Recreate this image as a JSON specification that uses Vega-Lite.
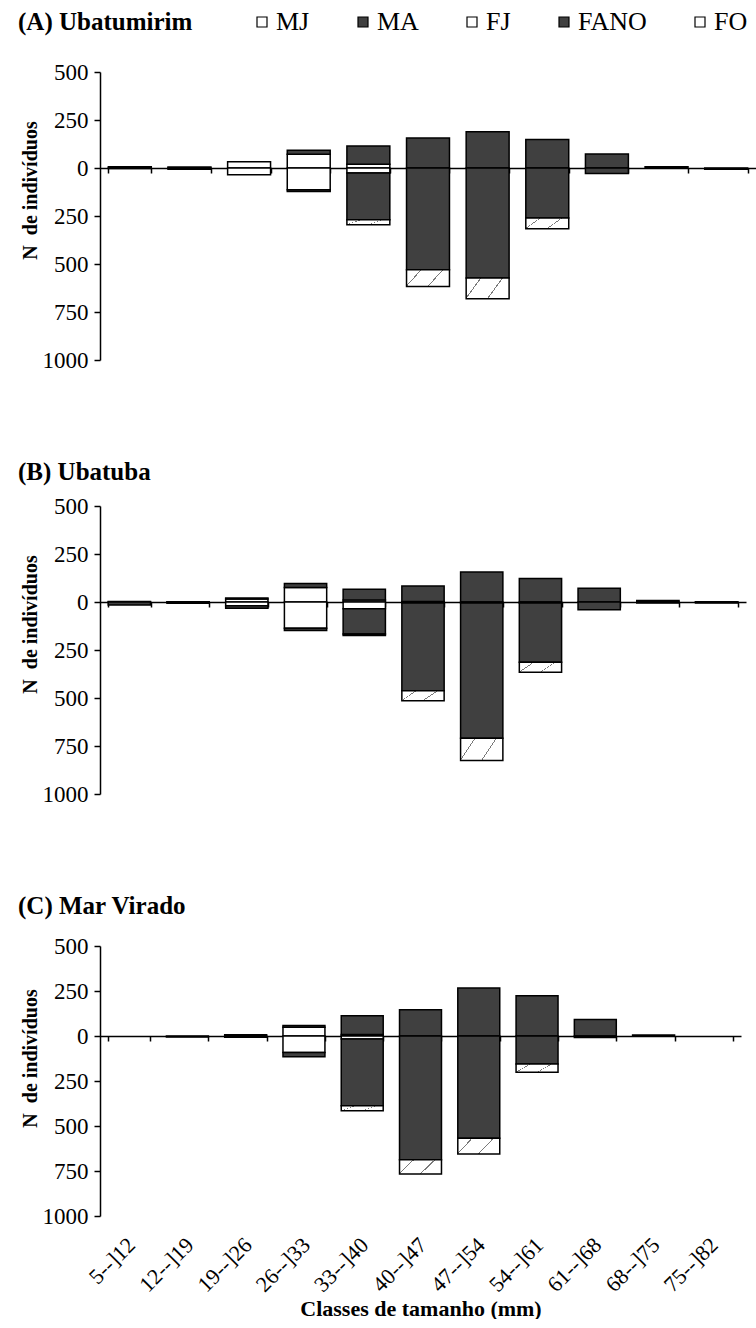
{
  "$schema": "https://vega.github.io/schema/vega-lite/v6.json",
  "background": "white",
  "padding": {"left": 18, "top": 9, "right": 0, "bottom": 0},
  "spacing": 88,
  "config": {
    "font": "Liberation Serif",
    "view": {"stroke": null},
    "axis": {
      "labelFont": "Liberation Serif",
      "titleFont": "Liberation Serif",
      "labelColor": "black",
      "titleColor": "black",
      "domainColor": "black",
      "tickColor": "black",
      "domainWidth": 1.5,
      "tickWidth": 1.5,
      "grid": false
    },
    "axisY": {
      "labelExpr": "'' + abs(datum.value)",
      "labelFontSize": 23,
      "labelPadding": 6,
      "tickSize": 6,
      "titleFontSize": 20,
      "titleFontWeight": "bold",
      "titlePadding": 2
    },
    "axisX": {
      "tickBand": "extent",
      "tickSize": 5,
      "zindex": 1,
      "title": null,
      "labels": false
    },
    "title": {
      "font": "Liberation Serif",
      "fontSize": 25,
      "fontWeight": "bold",
      "anchor": "start",
      "frame": "group",
      "color": "black"
    },
    "legend": {
      "orient": "none",
      "direction": "horizontal",
      "columns": 5,
      "padding": 0,
      "symbolType": "square",
      "symbolSize": 100,
      "symbolStrokeColor": "black",
      "symbolStrokeWidth": 1.2,
      "labelFont": "Liberation Serif",
      "labelFontSize": 26,
      "labelColor": "black",
      "labelOffset": 1,
      "columnPadding": 40
    }
  },
  "datasets": {
    "ubatumirim": [
      {"classe": "5--]12", "MJ": 0, "MA": 6, "FJ": 0, "FANO": 3, "FO": 0},
      {"classe": "12--]19", "MJ": 0, "MA": 5, "FJ": 0, "FANO": 7, "FO": 0},
      {"classe": "19--]26", "MJ": 33, "MA": 0, "FJ": 35, "FANO": 0, "FO": 0},
      {"classe": "26--]33", "MJ": 72, "MA": 20, "FJ": 113, "FANO": 10, "FO": 0},
      {"classe": "33--]40", "MJ": 20, "MA": 95, "FJ": 26, "FANO": 243, "FO": 26},
      {"classe": "40--]47", "MJ": 0, "MA": 156, "FJ": 0, "FANO": 530, "FO": 87},
      {"classe": "47--]54", "MJ": 0, "MA": 189, "FJ": 0, "FANO": 573, "FO": 108},
      {"classe": "54--]61", "MJ": 0, "MA": 148, "FJ": 0, "FANO": 260, "FO": 56},
      {"classe": "61--]68", "MJ": 0, "MA": 73, "FJ": 0, "FANO": 28, "FO": 0},
      {"classe": "68--]75", "MJ": 0, "MA": 6, "FJ": 0, "FANO": 0, "FO": 0},
      {"classe": "75--]82", "MJ": 0, "MA": 0, "FJ": 0, "FANO": 6, "FO": 0}
    ],
    "ubatuba": [
      {"classe": "5--]12", "MJ": 0, "MA": 2, "FJ": 0, "FANO": 15, "FO": 0},
      {"classe": "12--]19", "MJ": 0, "MA": 1, "FJ": 0, "FANO": 6, "FO": 0},
      {"classe": "19--]26", "MJ": 15, "MA": 6, "FJ": 20, "FANO": 12, "FO": 0},
      {"classe": "26--]33", "MJ": 75, "MA": 22, "FJ": 137, "FANO": 12, "FO": 0},
      {"classe": "33--]40", "MJ": 10, "MA": 56, "FJ": 35, "FANO": 132, "FO": 8},
      {"classe": "40--]47", "MJ": 3, "MA": 80, "FJ": 5, "FANO": 457, "FO": 52},
      {"classe": "47--]54", "MJ": 0, "MA": 156, "FJ": 5, "FANO": 705, "FO": 116},
      {"classe": "54--]61", "MJ": 0, "MA": 123, "FJ": 5, "FANO": 309, "FO": 52},
      {"classe": "61--]68", "MJ": 0, "MA": 71, "FJ": 0, "FANO": 40, "FO": 0},
      {"classe": "68--]75", "MJ": 0, "MA": 8, "FJ": 0, "FANO": 5, "FO": 0},
      {"classe": "75--]82", "MJ": 0, "MA": 1, "FJ": 0, "FANO": 5, "FO": 0}
    ],
    "marvirado": [
      {"classe": "5--]12", "MJ": 0, "MA": 0, "FJ": 0, "FANO": 0, "FO": 0},
      {"classe": "12--]19", "MJ": 0, "MA": 0, "FJ": 0, "FANO": 5, "FO": 0},
      {"classe": "19--]26", "MJ": 0, "MA": 7, "FJ": 0, "FANO": 7, "FO": 0},
      {"classe": "26--]33", "MJ": 49, "MA": 10, "FJ": 92, "FANO": 23, "FO": 0},
      {"classe": "33--]40", "MJ": 8, "MA": 105, "FJ": 17, "FANO": 370, "FO": 28},
      {"classe": "40--]47", "MJ": 0, "MA": 146, "FJ": 0, "FANO": 687, "FO": 80},
      {"classe": "47--]54", "MJ": 0, "MA": 267, "FJ": 0, "FANO": 568, "FO": 87},
      {"classe": "54--]61", "MJ": 0, "MA": 224, "FJ": 0, "FANO": 156, "FO": 46},
      {"classe": "61--]68", "MJ": 0, "MA": 91, "FJ": 0, "FANO": 8, "FO": 0},
      {"classe": "68--]75", "MJ": 0, "MA": 6, "FJ": 0, "FANO": 0, "FO": 0},
      {"classe": "75--]82", "MJ": 0, "MA": 0, "FJ": 0, "FANO": 0, "FO": 0}
    ]
  },
  "resolve": {"scale": {"fill": "independent"}, "legend": {"fill": "independent"}},
  "vconcat": [
    {
      "data": {"name": "ubatumirim"},
      "width": 656,
      "height": 288,
      "transform": [
        {"fold": ["MJ", "MA", "FJ", "FANO", "FO"], "as": ["grupo", "n"]},
        {"filter": "datum.n > 0"},
        {"calculate": "indexof(['FJ', 'FANO', 'FO'], datum.grupo) >= 0 ? -datum.n : datum.n", "as": "valor"},
        {"calculate": "indexof(['MJ', 'MA', 'FJ', 'FANO', 'FO'], datum.grupo)", "as": "ordem"}
      ],
      "mark": {"type": "bar", "stroke": "black", "strokeWidth": 1.5},
      "encoding": {
        "x": {
          "field": "classe", "type": "nominal",
          "scale": {"domain": ["5--]12", "12--]19", "19--]26", "26--]33", "33--]40", "40--]47", "47--]54", "54--]61", "61--]68", "68--]75", "75--]82"], "paddingInner": 0.28, "paddingOuter": 0.14},
          "axis": {"offset": -192}
        },
        "y": {
          "field": "valor", "type": "quantitative", "stack": "zero",
          "scale": {"domain": [-1000, 500], "nice": false},
          "axis": {"values": [-1000, -750, -500, -250, 0, 250, 500], "title": "N\u00a0\u00a0de indivíduos", "titleY": 118}
        },
        "order": {"field": "ordem", "type": "quantitative"},
        "fill": {
          "condition": {"test": "datum.grupo === 'FO'", "value": {"gradient": "linear", "x1": 0, "y1": 0, "x2": 1, "y2": 0.35, "stops": [{"offset": 0, "color": "white"}, {"offset": 0.29, "color": "white"}, {"offset": 0.29, "color": "#7a7a7a"}, {"offset": 0.315, "color": "#7a7a7a"}, {"offset": 0.315, "color": "white"}, {"offset": 0.74, "color": "white"}, {"offset": 0.74, "color": "#7a7a7a"}, {"offset": 0.765, "color": "#7a7a7a"}, {"offset": 0.765, "color": "white"}, {"offset": 1, "color": "white"}]}},
          "field": "grupo", "type": "nominal",
          "scale": {"domain": ["MJ", "MA", "FJ", "FANO", "FO"], "range": ["white", "#404040", "white", "#404040", "white"]},
          "legend": {
            "legendX": -82,
            "legendY": -63,
            "title": "(A) Ubatumirim",
            "titleOrient": "left",
            "titleFont": "Liberation Serif",
            "titleFontSize": 25,
            "titleFontWeight": "bold",
            "titleColor": "black",
            "titlePadding": 56
          }
        }
      }
    },
    {
      "data": {"name": "ubatuba"},
      "title": {"text": "(B) Ubatuba", "dx": -82, "offset": 10},
      "width": 646,
      "height": 288,
      "transform": [
        {"fold": ["MJ", "MA", "FJ", "FANO", "FO"], "as": ["grupo", "n"]},
        {"filter": "datum.n > 0"},
        {"calculate": "indexof(['FJ', 'FANO', 'FO'], datum.grupo) >= 0 ? -datum.n : datum.n", "as": "valor"},
        {"calculate": "indexof(['MJ', 'MA', 'FJ', 'FANO', 'FO'], datum.grupo)", "as": "ordem"}
      ],
      "mark": {"type": "bar", "stroke": "black", "strokeWidth": 1.5},
      "encoding": {
        "x": {
          "field": "classe", "type": "nominal",
          "scale": {"domain": ["5--]12", "12--]19", "19--]26", "26--]33", "33--]40", "40--]47", "47--]54", "54--]61", "61--]68", "68--]75", "75--]82"], "paddingInner": 0.28, "paddingOuter": 0.14},
          "axis": {"offset": -192}
        },
        "y": {
          "field": "valor", "type": "quantitative", "stack": "zero",
          "scale": {"domain": [-1000, 500], "nice": false},
          "axis": {"values": [-1000, -750, -500, -250, 0, 250, 500], "title": "N\u00a0\u00a0de indivíduos", "titleY": 118}
        },
        "order": {"field": "ordem", "type": "quantitative"},
        "fill": {
          "condition": {"test": "datum.grupo === 'FO'", "value": {"gradient": "linear", "x1": 0, "y1": 0, "x2": 1, "y2": 0.35, "stops": [{"offset": 0, "color": "white"}, {"offset": 0.29, "color": "white"}, {"offset": 0.29, "color": "#7a7a7a"}, {"offset": 0.315, "color": "#7a7a7a"}, {"offset": 0.315, "color": "white"}, {"offset": 0.74, "color": "white"}, {"offset": 0.74, "color": "#7a7a7a"}, {"offset": 0.765, "color": "#7a7a7a"}, {"offset": 0.765, "color": "white"}, {"offset": 1, "color": "white"}]}},
          "field": "grupo", "type": "nominal",
          "scale": {"domain": ["MJ", "MA", "FJ", "FANO", "FO"], "range": ["white", "#404040", "white", "#404040", "white"]},
          "legend": null
        }
      }
    },
    {
      "data": {"name": "marvirado"},
      "title": {"text": "(C) Mar Virado", "dx": -82, "offset": 16},
      "width": 641,
      "height": 270,
      "transform": [
        {"fold": ["MJ", "MA", "FJ", "FANO", "FO"], "as": ["grupo", "n"]},
        {"filter": "datum.n > 0"},
        {"calculate": "indexof(['FJ', 'FANO', 'FO'], datum.grupo) >= 0 ? -datum.n : datum.n", "as": "valor"},
        {"calculate": "indexof(['MJ', 'MA', 'FJ', 'FANO', 'FO'], datum.grupo)", "as": "ordem"}
      ],
      "mark": {"type": "bar", "stroke": "black", "strokeWidth": 1.5},
      "encoding": {
        "x": {
          "field": "classe", "type": "nominal",
          "scale": {"domain": ["5--]12", "12--]19", "19--]26", "26--]33", "33--]40", "40--]47", "47--]54", "54--]61", "61--]68", "68--]75", "75--]82"], "paddingInner": 0.28, "paddingOuter": 0.14},
          "axis": {
            "offset": -180,
            "labels": true,
            "labelAngle": -45,
            "labelFontSize": 22,
            "labelPadding": 193,
            "labelOffset": -5,
            "title": "Classes de tamanho (mm)",
            "titleFontSize": 22,
            "titleFontWeight": "bold",
            "titleBaseline": "middle",
            "titleY": 272
          }
        },
        "y": {
          "field": "valor", "type": "quantitative", "stack": "zero",
          "scale": {"domain": [-1000, 500], "nice": false},
          "axis": {"values": [-1000, -750, -500, -250, 0, 250, 500], "title": "N\u00a0\u00a0de indivíduos", "titleY": 112}
        },
        "order": {"field": "ordem", "type": "quantitative"},
        "fill": {
          "condition": {"test": "datum.grupo === 'FO'", "value": {"gradient": "linear", "x1": 0, "y1": 0, "x2": 1, "y2": 0.35, "stops": [{"offset": 0, "color": "white"}, {"offset": 0.29, "color": "white"}, {"offset": 0.29, "color": "#7a7a7a"}, {"offset": 0.315, "color": "#7a7a7a"}, {"offset": 0.315, "color": "white"}, {"offset": 0.74, "color": "white"}, {"offset": 0.74, "color": "#7a7a7a"}, {"offset": 0.765, "color": "#7a7a7a"}, {"offset": 0.765, "color": "white"}, {"offset": 1, "color": "white"}]}},
          "field": "grupo", "type": "nominal",
          "scale": {"domain": ["MJ", "MA", "FJ", "FANO", "FO"], "range": ["white", "#404040", "white", "#404040", "white"]},
          "legend": null
        }
      }
    }
  ]
}
